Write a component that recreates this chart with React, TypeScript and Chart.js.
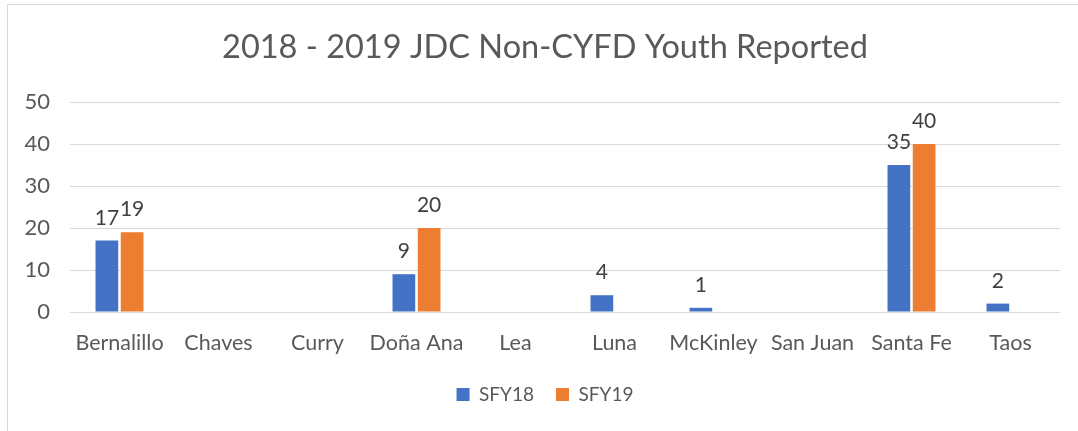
import React, { useEffect, useRef } from "react";
import { Chart, registerables } from "chart.js";

Chart.register(...registerables);

const categories = ["Bernalillo", "Chaves", "Curry", "Doña Ana", "Lea", "Luna", "McKinley", "San Juan", "Santa Fe", "Taos"];
const sfy18 = [17, null, null, 9, null, 4, 1, null, 35, 2];
const sfy19 = [19, null, null, 20, null, null, null, null, 40, null];
const yTicks = [0, 10, 20, 30, 40, 50];

const FONT = "Lato, 'Open Sans', sans-serif";

const dataLabels = {
  id: "dataLabels",
  afterDatasetsDraw(chart: any) {
    const ctx = chart.ctx;
    ctx.save();
    ctx.font = `21px ${FONT}`;
    ctx.fillStyle = "#404040";
    ctx.textAlign = "center";
    ctx.textBaseline = "alphabetic";
    chart.data.datasets.forEach((ds: any, i: number) => {
      const meta = chart.getDatasetMeta(i);
      meta.data.forEach((el: any, j: number) => {
        const v = ds.data[j];
        if (v === null || v === undefined) return;
        ctx.fillText(String(v), el.x, el.y - 16);
      });
    });
    ctx.restore();
  },
};

export default function App() {
  const ref = useRef<HTMLCanvasElement>(null);
  useEffect(() => {
    if (!ref.current) return;
    const chart = new Chart(ref.current, {
      type: "bar",
      data: {
        labels: categories,
        datasets: [
          { label: "SFY18", data: sfy18, backgroundColor: "#4472C4", categoryPercentage: 0.51, barPercentage: 0.9 },
          { label: "SFY19", data: sfy19, backgroundColor: "#ED7D31", categoryPercentage: 0.51, barPercentage: 0.9 },
        ],
      },
      options: {
        animation: false,
        responsive: false,
        layout: { padding: { left: 22, right: 18, top: 0, bottom: 17 } },
        plugins: {
          title: {
            display: true,
            text: "2018 - 2019 JDC Non-CYFD Youth Reported",
            color: "#595959",
            font: { family: FONT, size: 32.5, weight: "normal" },
            padding: { top: 23, bottom: 35 },
          },
          legend: {
            position: "bottom",
            labels: {
              color: "#595959",
              font: { family: FONT, size: 19 },
              boxWidth: 13,
              boxHeight: 13,
              padding: 22,
            },
          },
          tooltip: { enabled: false },
        },
        scales: {
          x: {
            grid: { display: false, drawTicks: false },
            border: { display: false },
            ticks: { color: "#595959", font: { family: FONT, size: 21.5 }, padding: 18, maxRotation: 0 },
            afterFit: (s: any) => { s.height = 51; },
          },
          y: {
            min: 0,
            max: 50,
            afterBuildTicks: (s: any) => { s.ticks = yTicks.map((v) => ({ value: v })); },
            grid: { color: "#d9d9d9", drawTicks: false },
            border: { display: false },
            ticks: { color: "#595959", font: { family: FONT, size: 22 }, padding: 20 },
            afterFit: (s: any) => {
              s.width = 40;
              s._computeLabelArea = () => undefined;
            },
          },
        },
      },
      plugins: [dataLabels],
    });
    return () => chart.destroy();
  }, []);

  return (
    <div style={{ position: "absolute", left: 0, top: 0, width: 1078, height: 431, background: "#fff" }}>
      <div
        style={{
          position: "absolute",
          left: 7,
          top: 4,
          width: 1071,
          height: 427,
          boxSizing: "border-box",
          borderLeft: "1px solid #d9d9d9",
          borderTop: "1px solid #d9d9d9",
        }}
      >
        <canvas ref={ref} width={1070} height={426} style={{ display: "block" }} />
      </div>
    </div>
  );
}
